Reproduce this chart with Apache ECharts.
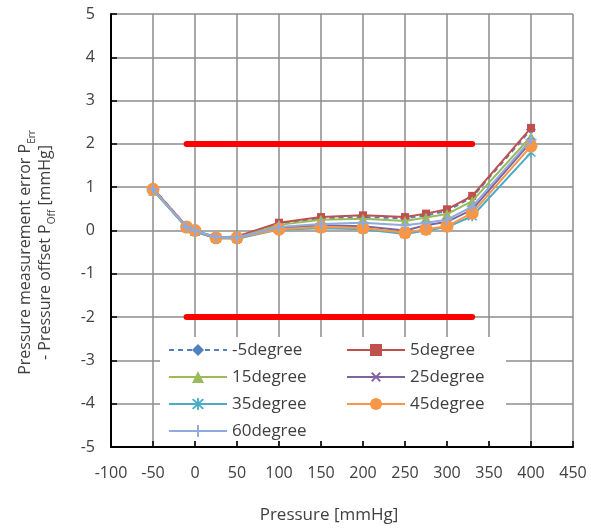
<!DOCTYPE html>
<html><head><meta charset="utf-8">
<script src="https://cdn.jsdelivr.net/npm/echarts@6/dist/echarts.min.js"></script>
<style>html,body{margin:0;padding:0;background:#fff}#c{width:591px;height:531px}</style>
</head><body><div id="c"></div>
<script>
const pressures = [-50, -10, 0, 25, 50, 100, 150, 200, 250, 275, 300, 330, 400];
const seriesNames = ['-5degree', '5degree', '15degree', '25degree', '35degree', '45degree', '60degree'];
const m5deg  = [0.97, 0.10, 0.00, -0.16, -0.15, 0.15, 0.28, 0.31, 0.28, 0.35, 0.45, 0.77, 2.33];
const p5deg  = [0.97, 0.10, 0.00, -0.16, -0.14, 0.18, 0.31, 0.35, 0.31, 0.39, 0.49, 0.80, 2.37];
const p15deg = [0.92, 0.08, -0.01, -0.17, -0.17, 0.13, 0.25, 0.27, 0.22, 0.30, 0.38, 0.68, 2.17];
const p25deg = [0.95, 0.07, -0.02, -0.18, -0.17, 0.05, 0.12, 0.10, 0.00, 0.12, 0.20, 0.48, 2.05];
const p35deg = [0.95, 0.06, -0.03, -0.18, -0.19, 0.02, 0.05, 0.03, -0.08, 0.00, 0.08, 0.33, 1.80];
const p45deg = [0.95, 0.08, 0.00, -0.17, -0.17, 0.03, 0.08, 0.06, -0.05, 0.03, 0.10, 0.40, 1.95];
const p60deg = [0.95, 0.08, 0.00, -0.15, -0.16, 0.08, 0.15, 0.18, 0.12, 0.18, 0.25, 0.55, 2.10];
const limitX = [-10, 330];
const limitUpper = [2, 2];
const limitLower = [-2, -2];

const allValues = [m5deg, p5deg, p15deg, p25deg, p35deg, p45deg, p60deg];
const colors = ['#4F81BD', '#C0504D', '#9BBB59', '#8064A2', '#4BACC6', '#F79646', '#8FAADC'];
const plusPath = 'path://M4.2,0H5.8V4.2H10V5.8H5.8V10H4.2V5.8H0V4.2H4.2Z';
const starPath = 'path://M4.3,0H5.7V10H4.3Z M0.5,1.5L1.5,0.5L9.5,8.5L8.5,9.5Z M8.5,0.5L9.5,1.5L1.5,9.5L0.5,8.5Z';
const symbols = ['diamond', 'rect', 'triangle', plusPath, starPath, 'circle', plusPath];
const symSizes = [10, 8, 10, 10, 10, 13, 11];
const symRot = [0, 0, 0, 45, 0, 0, 0];

const zip = (xs, ys) => xs.map((x, i) => [x, ys[i]]);

const font = '"Open Sans", "Noto Sans", sans-serif';
const series = seriesNames.map((n, i) => ({
  name: n, type: 'line', data: zip(pressures, allValues[i]),
  symbol: symbols[i], symbolSize: symSizes[i], symbolRotate: symRot[i],
  lineStyle: { width: 2, color: colors[i], type: i === 0 ? [5, 4] : 'solid' },
  itemStyle: { color: colors[i] }, z: 3 + i, animation: false
}));
series.unshift(
  { name: 'upper', type: 'line', data: zip(limitX, limitUpper), symbol: 'none',
    lineStyle: { width: 6, color: '#FF0000', cap: 'round' }, z: 2, animation: false },
  { name: 'lower', type: 'line', data: zip(limitX, limitLower), symbol: 'none',
    lineStyle: { width: 6, color: '#FF0000', cap: 'round' }, z: 2, animation: false }
);

const legendCommon = {
  orient: 'vertical', itemWidth: 58, itemHeight: 15, itemGap: 7,
  textStyle: { fontSize: 17, lineHeight: 20, color: '#404040', fontFamily: font },
  padding: 0, z: 10
};

const chart = echarts.init(document.getElementById('c'), null, { renderer: 'canvas' });
chart.setOption({
  backgroundColor: '#fff',
  animation: false,
  grid: { left: 111, right: 18, top: 14, bottom: 84 },
  xAxis: {
    type: 'value', min: -100, max: 450, interval: 50,
    name: 'Pressure [mmHg]', nameLocation: 'middle', nameGap: 60,
    nameTextStyle: { fontSize: 17, color: '#404040', fontFamily: font, padding: [0, 26, 0, 0] },
    axisLine: { onZero: false, lineStyle: { color: '#000', width: 2 } },
    axisTick: { inside: true, length: 6, lineStyle: { color: '#000', width: 1.5 } },
    axisLabel: { fontSize: 16, color: '#404040', margin: 18, fontFamily: font },
    splitLine: { lineStyle: { color: '#8C8C8C', width: 1.5 } }
  },
  yAxis: {
    type: 'value', min: -5, max: 5, interval: 1,
    name: '{a|Pressure measurement error P}{s|Err}\n{a|- Pressure offset P}{s|Off}{a| [mmHg]}',
    nameLocation: 'middle', nameRotate: 90, nameGap: 58,
    nameTextStyle: {
      color: '#404040', fontFamily: font, padding: [0, 44, 0, 0], lineHeight: 20,
      rich: {
        a: { fontSize: 16, color: '#404040', fontFamily: font, lineHeight: 20, verticalAlign: 'bottom' },
        s: { fontSize: 10, color: '#404040', fontFamily: font, lineHeight: 20, verticalAlign: 'bottom', padding: [0, 0, -4, 0] }
      }
    },
    axisLine: { show: true, onZero: false, lineStyle: { color: '#000', width: 2 } },
    axisTick: { show: true, inside: true, length: 6, lineStyle: { color: '#000', width: 1.5 } },
    axisLabel: { fontSize: 16, color: '#404040', margin: 16, fontFamily: font },
    splitLine: { lineStyle: { color: '#8C8C8C', width: 1.5 } }
  },
  graphic: [{
    type: 'rect', left: 160, top: 337, shape: { width: 346, height: 104 },
    style: { fill: '#fff' }, z: 9
  }],
  legend: [
    Object.assign({}, legendCommon, { left: 168, top: 340, data: ['-5degree', '15degree', '35degree', '60degree'] }),
    Object.assign({}, legendCommon, { left: 346, top: 340, data: ['5degree', '25degree', '45degree'] })
  ],
  series: series
});
</script></body></html>
